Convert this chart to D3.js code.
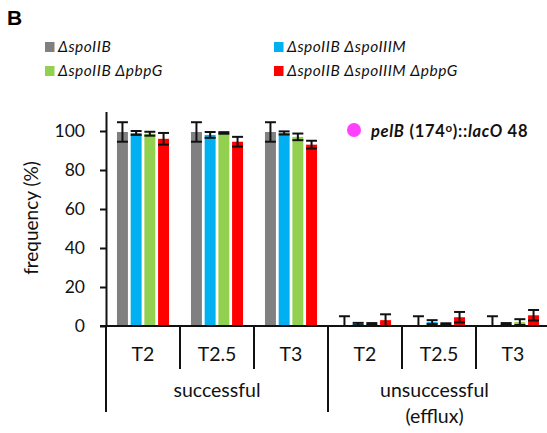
<!DOCTYPE html>
<html><head><meta charset="utf-8">
<script src="https://cdn.jsdelivr.net/npm/d3@7"></script>
<style>
html,body{margin:0;padding:0;background:#fff;}
svg{display:block;}
text{font-family:Lato,"Open Sans",sans-serif;fill:#111;}
</style></head>
<body>
<svg id="chart" width="547" height="433"></svg>
<script>
const categories = ["T2","T2.5","T3","T2","T2.5","T3"];
const outcomeGroups = [["successful"],["unsuccessful","(efflux)"]];
const seriesNames = ["ΔspoIIB","ΔspoIIB ΔspoIIIM","ΔspoIIB ΔpbpG","ΔspoIIB ΔspoIIIM ΔpbpG"];
const seriesColors = ["#808080","#00b0f0","#92d050","#ff0000"];
const grayValues  = [99.5, 99.5, 99.5, 0, 0, 0];
const grayErrors  = [5, 5, 5, 5, 5, 5];
const blueValues  = [99, 98, 99, 1, 2, 1];
const blueErrors  = [1, 1.5, 0.8, 0.6, 1, 0.5];
const greenValues = [98.6, 99, 97, 1, 1, 2];
const greenErrors = [1, 0.4, 1.7, 0.5, 0.4, 1.5];
const redValues   = [96, 94.5, 93, 3, 4.5, 5.5];
const redErrors   = [3, 2.5, 2, 3, 2.7, 2.7];
const yTicks = [0, 20, 40, 60, 80, 100];

const values = [grayValues, blueValues, greenValues, redValues];
const errors = [grayErrors, blueErrors, greenErrors, redErrors];

const svg = d3.select("#chart");
const x0 = d3.scaleBand().domain(d3.range(categories.length)).range([106, 550]).padding(0);
const x1 = d3.scaleBand().domain(d3.range(seriesNames.length)).range([0, x0.bandwidth()])
  .paddingInner(0.2).paddingOuter(0.8);
const y = d3.scaleLinear().domain([0, 110]).range([326, 111.5]);

// panel letter
svg.append("text").attr("x", 7).attr("y", 25).text("B")
  .style("font-family","'Liberation Sans',Arial,sans-serif").style("font-weight","bold")
  .style("font-size","21px").style("fill","#000");

// legend
const legPos = [[45,42],[274,42],[45,66],[274,66]];
seriesNames.forEach((s,i)=>{
  const g = svg.append("g").attr("transform",`translate(${legPos[i][0]},${legPos[i][1]})`);
  g.append("rect").attr("width",9.5).attr("height",10).attr("fill",seriesColors[i]);
  g.append("text").attr("x",13).attr("y",10).text(s)
    .style("font-style","italic").style("font-size","15.5px").style("letter-spacing","0.5px");
});

// bars
const bars = svg.append("g");
values.forEach((vals,si)=>{
  bars.selectAll(null).data(vals).join("rect")
    .attr("x",(d,ci)=>x0(ci)+x1(si))
    .attr("y",d=>y(d))
    .attr("width",x1.bandwidth())
    .attr("height",d=>y(0)-y(d))
    .attr("fill",seriesColors[si]);
});

// error bars
const eb = svg.append("g").attr("stroke","#111").attr("stroke-width",2).attr("fill","none");
values.forEach((vals,si)=>{
  vals.forEach((v,ci)=>{
    const e = errors[si][ci];
    const cx = x0(ci)+x1(si)+x1.bandwidth()/2;
    const hw = x1.bandwidth()/2;
    const hi = v+e, lo = Math.max(0, v-e);
    eb.append("line").attr("x1",cx).attr("x2",cx).attr("y1",y(hi)).attr("y2",y(lo));
    eb.append("line").attr("x1",cx-hw).attr("x2",cx+hw).attr("y1",y(hi)).attr("y2",y(hi));
    if (v-e >= 0) eb.append("line").attr("x1",cx-hw).attr("x2",cx+hw).attr("y1",y(lo)).attr("y2",y(lo));
  });
});

// y axis
const yAxis = svg.append("g").attr("transform","translate(106,0)")
  .call(d3.axisLeft(y).tickValues(yTicks).tickSize(6).tickPadding(15).tickSizeOuter(0));
yAxis.select(".domain").attr("stroke","#111").attr("stroke-width",2);
yAxis.selectAll(".tick line").attr("stroke","#111").attr("stroke-width",2);
yAxis.selectAll(".tick text").style("font-family","Lato,sans-serif").style("font-size","17.5px").attr("fill","#111");

svg.append("text").attr("transform","translate(38,218) rotate(-90)")
  .attr("text-anchor","middle").text("frequency (%)").style("font-size","19px");

// x axis line
svg.append("line").attr("x1",100).attr("x2",550).attr("y1",y(0)).attr("y2",y(0))
  .attr("stroke","#111").attr("stroke-width",2);

// dividers
const divs = svg.append("g").attr("stroke","#111").attr("stroke-width",2);
d3.range(categories.length).forEach(ci=>{
  const xx = x0(ci);
  const outer = (ci % 3 === 0);
  divs.append("line").attr("x1",xx).attr("x2",xx).attr("y1",y(0)).attr("y2",outer?412:369);
});

// category labels
svg.append("g").selectAll("text").data(categories).join("text")
  .attr("x",(d,i)=>x0(i)+x0.bandwidth()/2).attr("y",361)
  .attr("text-anchor","middle").text(d=>d).style("font-size","19.5px");

// outcome group labels
outcomeGroups.forEach((lines,gi)=>{
  const start = x0(gi*3), end = gi===0 ? x0(3) : 541;
  lines.forEach((ln,li)=>{
    svg.append("text").attr("x",(start+end)/2).attr("y",397+li*26)
      .attr("text-anchor","middle").text(ln).style("font-size","19.5px");
  });
});

// strain annotation
svg.append("circle").attr("cx",354).attr("cy",130).attr("r",7).attr("fill","#ff40ff");
const ann = svg.append("text").attr("x",371).attr("y",136.5)
  .style("font-weight","bold").style("font-size","16.5px").style("letter-spacing","0.7px");
ann.append("tspan").text("pelB").style("font-style","italic");
ann.append("tspan").text(" (174");
ann.append("tspan").text("o").attr("dy",-5).style("font-size","11.5px");
ann.append("tspan").text(")::").attr("dy",5);
ann.append("tspan").text("lacO").style("font-style","italic");
ann.append("tspan").text(" 48");
</script>
</body></html>
